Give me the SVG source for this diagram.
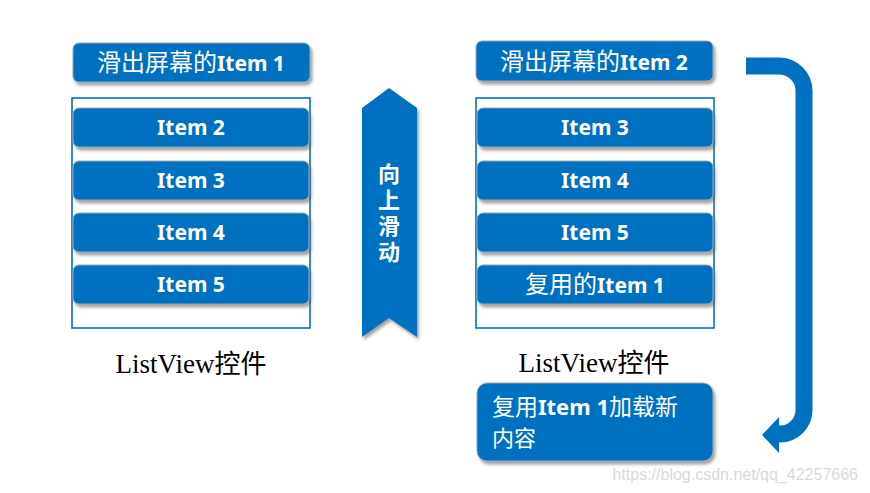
<svg xmlns="http://www.w3.org/2000/svg" width="870" height="493" viewBox="0 0 870 493">
<style>
.box{fill:#0070C0;stroke:#9aa7b4;stroke-width:1;filter:url(#sh)}
.frame{fill:none;stroke:#0070C0;stroke-width:1.6}
.t{font-family:"Noto Sans","Noto Sans CJK SC",sans-serif;font-weight:bold;fill:#fff;font-size:21px}
.c{font-size:24px;font-family:"Noto Sans CJK SC",sans-serif;font-weight:normal}
.lv{font-family:"Liberation Serif","Noto Sans CJK SC",serif;font-size:27px;fill:#000}
.lvc{font-family:"Noto Sans CJK SC",sans-serif;font-size:26px}
</style>
<defs>
<filter id="sh" x="-10%" y="-20%" width="130%" height="160%">
<feDropShadow dx="2" dy="3" stdDeviation="1.8" flood-color="#555" flood-opacity="0.55"/>
</filter>
</defs>
<rect width="870" height="493" fill="#fff"/>

<g id="left-title"><rect class="box" x="73" y="43" width="237" height="39" rx="6"/><text class="t" x="191" y="71" text-anchor="middle"><tspan class="c">滑出屏幕的</tspan>Item 1</text></g>
<g id="left-list">
<rect class="frame" x="72" y="98" width="238" height="230"/>
<g id="l-item2"><rect class="box" x="73" y="108" width="236" height="39" rx="6"/><text class="t" x="191" y="135" text-anchor="middle">Item 2</text></g>
<g id="l-item3"><rect class="box" x="73" y="161" width="236" height="39" rx="6"/><text class="t" x="191" y="188" text-anchor="middle">Item 3</text></g>
<g id="l-item4"><rect class="box" x="73" y="213" width="236" height="39" rx="6"/><text class="t" x="191" y="240" text-anchor="middle">Item 4</text></g>
<g id="l-item5"><rect class="box" x="73" y="265" width="236" height="39" rx="6"/><text class="t" x="191" y="292" text-anchor="middle">Item 5</text></g>
</g>
<g id="left-label"><text class="lv" x="191" y="373" text-anchor="middle">ListView<tspan class="lvc">控件</tspan></text></g>

<g id="ribbon">
<polygon points="389,88 417,108 417,337 389,318 362,337 362,108" fill="#0070C0" filter="url(#sh)"/>
<text x="389" y="163" writing-mode="vertical-rl" letter-spacing="4" font-family="Noto Sans CJK SC,sans-serif" font-weight="bold" font-size="22" fill="#fff">向上滑动</text>
</g>

<g id="right-title"><rect class="box" x="476" y="41" width="237" height="40" rx="6"/><text class="t" x="594" y="70" text-anchor="middle"><tspan class="c">滑出屏幕的</tspan>Item 2</text></g>
<g id="right-list">
<rect class="frame" x="476" y="98" width="238" height="230"/>
<g id="r-item3"><rect class="box" x="477" y="108" width="236" height="39" rx="6"/><text class="t" x="595" y="135" text-anchor="middle">Item 3</text></g>
<g id="r-item4"><rect class="box" x="477" y="161" width="236" height="39" rx="6"/><text class="t" x="595" y="188" text-anchor="middle">Item 4</text></g>
<g id="r-item5"><rect class="box" x="477" y="213" width="236" height="39" rx="6"/><text class="t" x="595" y="240" text-anchor="middle">Item 5</text></g>
<g id="r-item1"><rect class="box" x="477" y="265" width="236" height="39" rx="6"/><text class="t" x="595" y="293" text-anchor="middle"><tspan class="c">复用的</tspan>Item 1</text></g>
</g>
<g id="right-label"><text class="lv" x="594" y="372" text-anchor="middle">ListView<tspan class="lvc">控件</tspan></text></g>

<g id="new-content"><rect class="box" x="477" y="383" width="236" height="78" rx="10"/>
<text class="t" x="492" y="415" style="font-size:22px"><tspan class="c" style="font-size:23px">复用</tspan>Item 1<tspan class="c" style="font-size:23px">加载新</tspan></text>
<text class="t" x="492" y="446"><tspan class="c" style="font-size:22px">内容</tspan></text>
</g>

<g id="connectors">
<path d="M746,66 H779 A25,25 0 0 1 804,91 V410 A24,24 0 0 1 780,434 H776" fill="none" stroke="#0070C0" stroke-width="17"/>
<polygon points="762,435 779,417 779,453" fill="#0070C0"/>
</g>

<text x="858" y="480" text-anchor="end" font-family="Liberation Sans,sans-serif" font-size="16" fill="#d9d9d9">https://blog.csdn.net/qq_42257666</text>
</svg>
